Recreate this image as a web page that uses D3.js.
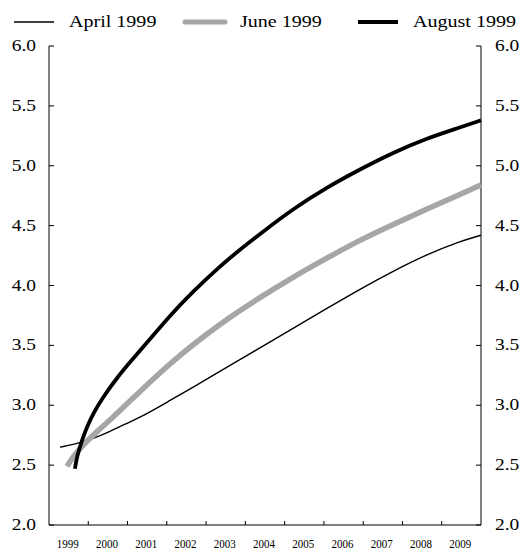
<!DOCTYPE html>
<html>
<head>
<meta charset="utf-8">
<script src="https://cdn.jsdelivr.net/npm/d3@7"></script>
<style>
  body { margin: 0; background: #fff; }
  svg { display: block; }
</style>
</head>
<body>
<div id="chart"></div>
<script>
// forecasts: [decimal year, value]
const april = [[1999.28, 2.65], [1999.61, 2.67], [2000.12, 2.72], [2000.55, 2.78], [2000.99, 2.85],
  [2001.50, 2.93], [2002.08, 3.04], [2002.67, 3.15], [2003.28, 3.27], [2003.86, 3.38],
  [2004.37, 3.48], [2005.21, 3.64], [2006.08, 3.81], [2006.92, 3.97], [2007.76, 4.12],
  [2008.63, 4.26], [2009.47, 4.37], [2010.0, 4.42]];
const june = [[1999.46, 2.49], [1999.61, 2.57], [1999.87, 2.67], [2000.22, 2.78], [2000.63, 2.90],
  [2001.14, 3.06], [2001.75, 3.25], [2002.34, 3.42], [2002.92, 3.57], [2003.53, 3.72],
  [2004.37, 3.90], [2005.21, 4.07], [2006.08, 4.23], [2006.92, 4.38], [2007.76, 4.51],
  [2008.63, 4.64], [2009.47, 4.76], [2010.0, 4.84]];
const august = [[1999.66, 2.47], [1999.71, 2.57], [1999.84, 2.71], [1999.97, 2.82], [2000.12, 2.93],
  [2000.38, 3.07], [2000.73, 3.23], [2001.14, 3.39], [2001.57, 3.55], [2002.08, 3.75],
  [2002.67, 3.95], [2003.28, 4.14], [2003.86, 4.30], [2004.37, 4.43], [2005.21, 4.64],
  [2006.08, 4.82], [2006.92, 4.97], [2007.76, 5.11], [2008.63, 5.23], [2009.47, 5.32],
  [2010.0, 5.38]];
const years = d3.range(1999, 2010);
const yTicks = [2.0, 2.5, 3.0, 3.5, 4.0, 4.5, 5.0, 5.5, 6.0];
const series = [
  { name: "April 1999", data: april, color: "#000", width: 1.4 },
  { name: "June 1999", data: june, color: "#a6a6a6", width: 5.5 },
  { name: "August 1999", data: august, color: "#000", width: 3.8 }
];

const W = 525, H = 551;
const plot = { left: 49, right: 481, top: 46, bottom: 525 };
const stretch = 1.18; // text in the original is drawn a little wide

const svg = d3.select("#chart").append("svg")
  .attr("width", W).attr("height", H)
  .style("font-family", "'Liberation Serif', 'Times New Roman', serif");

const x = d3.scaleLinear().domain([1999, 2010]).range([plot.left, plot.right]);
const y = d3.scaleLinear().domain([2, 6]).range([plot.bottom, plot.top]);

function label(tx, ty, txt, size, anchor, sx) {
  svg.append("text")
    .attr("transform", `translate(${tx},${ty}) scale(${sx},1)`)
    .attr("text-anchor", anchor)
    .style("font-size", size + "px")
    .text(txt);
}

// frame (left, bottom, right)
svg.append("path")
  .attr("d", `M${plot.left},${plot.top}V${plot.bottom}H${plot.right}V${plot.top}`)
  .attr("fill", "none").attr("stroke", "#000").attr("stroke-width", 1);

// y ticks both sides
yTicks.forEach(v => {
  svg.append("line").attr("x1", plot.left).attr("x2", plot.left + 5)
    .attr("y1", y(v)).attr("y2", y(v)).attr("stroke", "#000");
  svg.append("line").attr("x1", plot.right - 5).attr("x2", plot.right)
    .attr("y1", y(v)).attr("y2", y(v)).attr("stroke", "#000");
  label(36, y(v) + 5, v.toFixed(1), 16.5, "end", stretch);
  label(495, y(v) + 5, v.toFixed(1), 16.5, "start", stretch);
});

// x ticks at year boundaries, labels centred on the year
years.slice(1).forEach(yr => {
  svg.append("line").attr("x1", x(yr)).attr("x2", x(yr))
    .attr("y1", plot.bottom).attr("y2", plot.bottom - 4).attr("stroke", "#000");
});
years.forEach(yr => {
  label(x(yr + 0.5) - 1, 548, yr, 12.5, "middle", 0.88);
});

// smooth through the read points
const line = d3.line()
  .x(d => x(d[0]))
  .y(d => y(d[1]))
  .curve(d3.curveBasis);

series.forEach(s => {
  svg.append("path").datum(s.data)
    .attr("d", line)
    .attr("fill", "none")
    .attr("stroke", s.color)
    .attr("stroke-width", s.width)
    .attr("stroke-linejoin", "round");
});

// legend
const legendX = [14, 185, 358];
series.forEach((s, i) => {
  const lx = legendX[i];
  svg.append("line").attr("x1", lx).attr("x2", lx + 40)
    .attr("y1", 22).attr("y2", 22)
    .attr("stroke", s.color).attr("stroke-width", Math.min(s.width, 5))
    .attr("stroke-linecap", i === 1 ? "round" : "butt");
  label(lx + 55, 26.5, s.name, 17, "start", stretch);
});
</script>
</body>
</html>
